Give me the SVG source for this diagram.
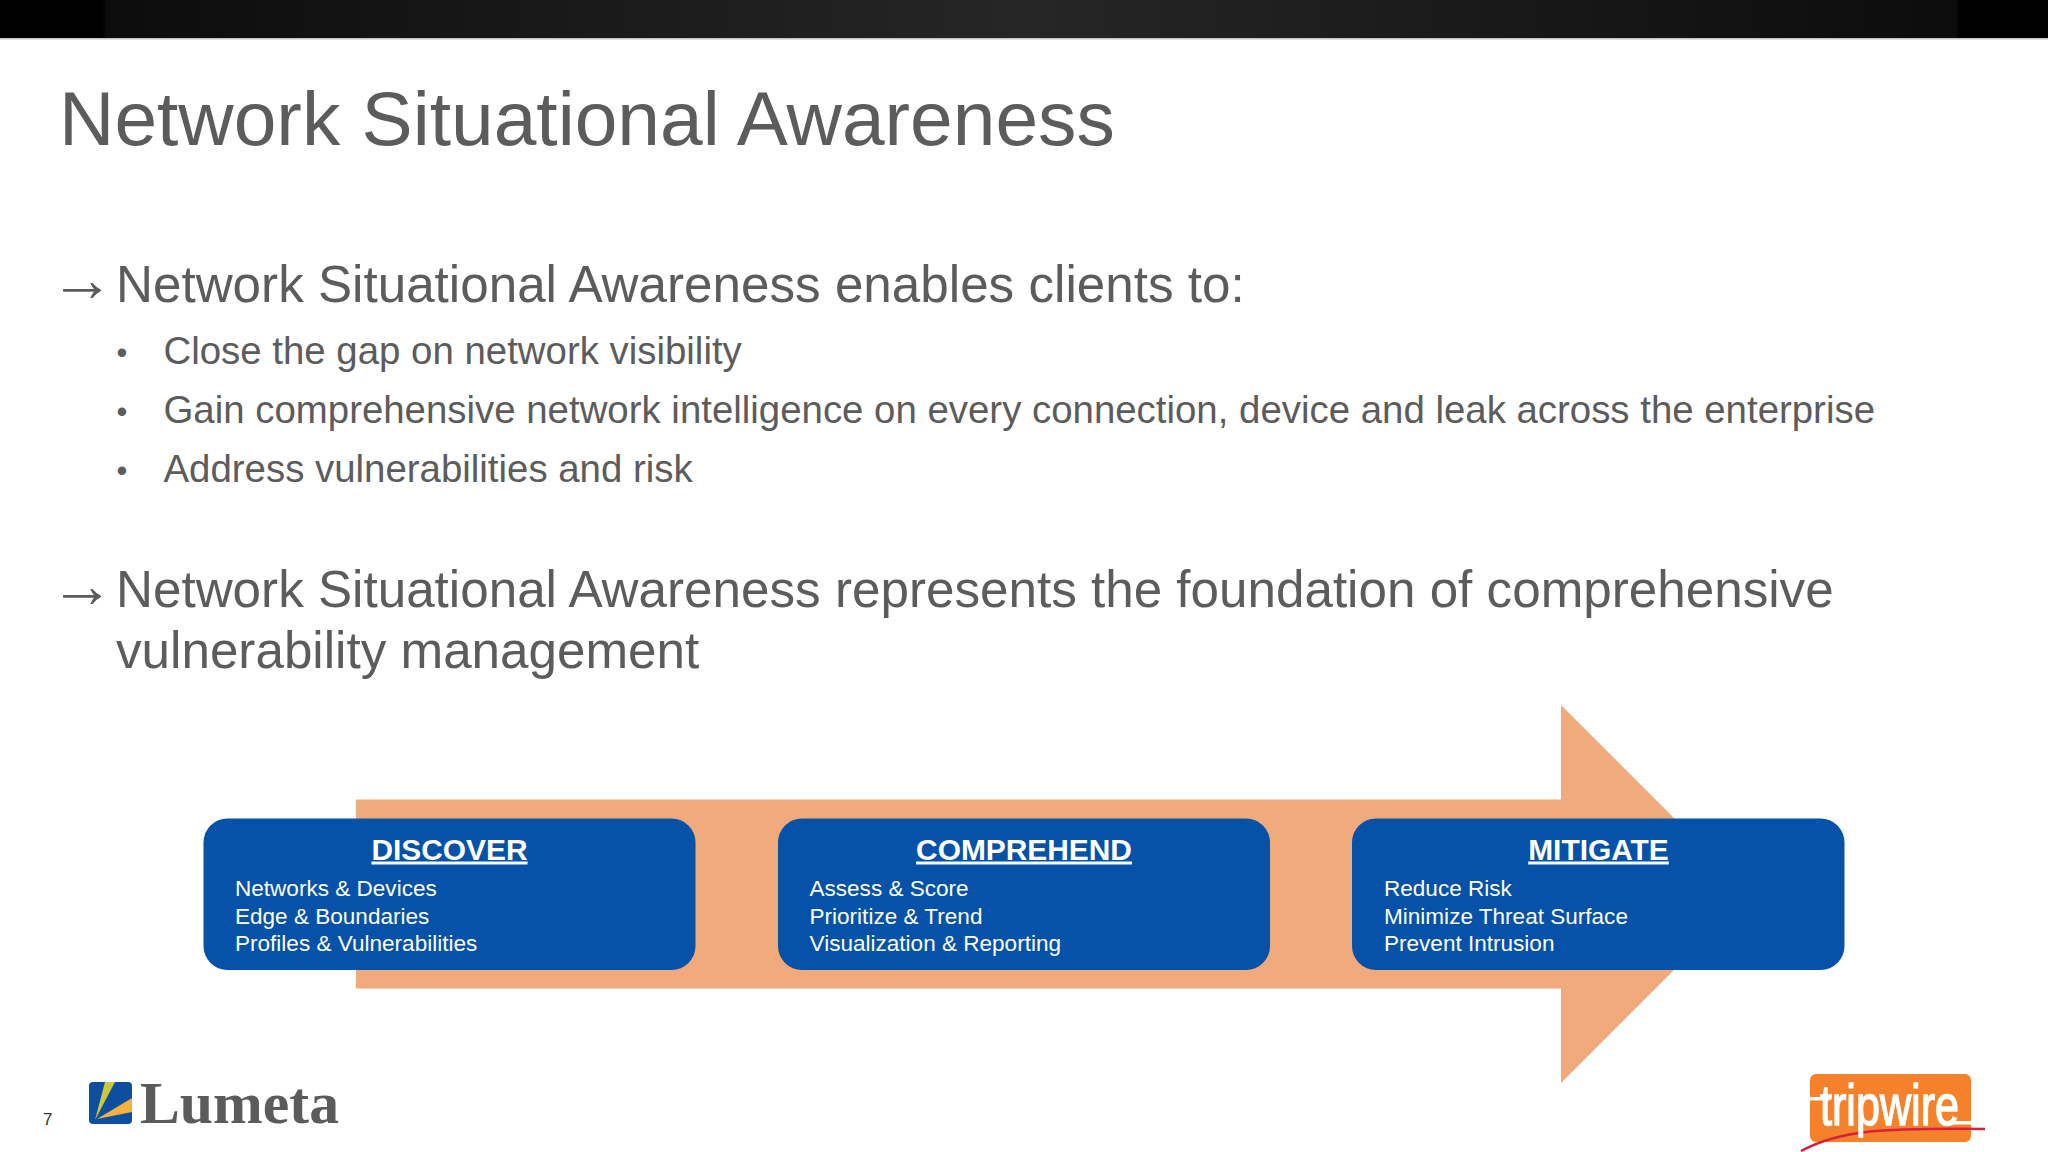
<svg xmlns="http://www.w3.org/2000/svg" width="2048" height="1152" viewBox="0 0 2048 1152">
<style>
text{font-family:"Liberation Sans",Arial,sans-serif}
.t{fill:#5c5c5c}
.h{font-size:51.200px}
.b{font-size:38.400px}
.a{font-size:64px}
.d{font-size:31px}
.box{fill:#0552a8}
.bt{font-size:29.900px;font-weight:bold;fill:#fff;text-anchor:middle;text-decoration:underline}
.bl{font-size:22.550px;fill:#fff}
</style>
<defs>
<linearGradient id="bar" x1="0" x2="1" y1="0" y2="0">
<stop offset="0" stop-color="#000"/><stop offset="0.05" stop-color="#000"/><stop offset="0.052" stop-color="#0c0c0c"/><stop offset="0.5" stop-color="#262626"/><stop offset="0.955" stop-color="#0c0c0c"/><stop offset="0.957" stop-color="#000"/><stop offset="1" stop-color="#000"/>
</linearGradient>
</defs>
<rect width="2048" height="1152" fill="#fff"/>
<rect id="topbar" width="2048" height="38" fill="url(#bar)"/>
<rect y="38" width="2048" height="1.500" fill="#c4c4c4"/>
<text class="t" x="59" y="144.500" font-size="76.700">Network Situational Awareness</text>
<text class="t a" x="50" y="301">→</text>
<text class="t h" x="116" y="302">Network Situational Awareness enables clients to:</text>
<text class="t d" x="116.500" y="362.500">•</text>
<text class="t b" x="163.500" y="364">Close the gap on network visibility</text>
<text class="t d" x="116.500" y="421.500">•</text>
<text class="t b" x="163.500" y="423">Gain comprehensive network intelligence on every connection, device and leak across the enterprise</text>
<text class="t d" x="116.500" y="480.500">•</text>
<text class="t b" x="163.500" y="482">Address vulnerabilities and risk</text>
<text class="t a" x="50" y="606.500">→</text>
<text class="t h" x="116" y="607">Network Situational Awareness represents the foundation of comprehensive</text>
<text class="t h" x="116" y="668">vulnerability management</text>
<g id="connectors">
<path id="flow-arrow" d="M356 799.500H1561V705L1750 894L1561 1083V988.500H356Z" fill="#f0aa7c"/>
</g>
<g id="discover">
<rect class="box" x="203.500" y="818.500" width="492" height="151.500" rx="24"/>
<text class="bt" x="449.500" y="859.500">DISCOVER</text>
<text class="bl" x="235" y="896">Networks &amp; Devices</text>
<text class="bl" x="235" y="923.500">Edge &amp; Boundaries</text>
<text class="bl" x="235" y="951">Profiles &amp; Vulnerabilities</text>
</g>
<g id="comprehend">
<rect class="box" x="778" y="818.500" width="492" height="151.500" rx="24"/>
<text class="bt" x="1024" y="859.500">COMPREHEND</text>
<text class="bl" x="809.500" y="896">Assess &amp; Score</text>
<text class="bl" x="809.500" y="923.500">Prioritize &amp; Trend</text>
<text class="bl" x="809.500" y="951">Visualization &amp; Reporting</text>
</g>
<g id="mitigate">
<rect class="box" x="1352" y="818.500" width="492.500" height="151.500" rx="24"/>
<text class="bt" x="1598.500" y="859.500">MITIGATE</text>
<text class="bl" x="1384" y="896">Reduce Risk</text>
<text class="bl" x="1384" y="923.500">Minimize Threat Surface</text>
<text class="bl" x="1384" y="951">Prevent Intrusion</text>
</g>
<text x="43" y="1125" font-size="17" fill="#333">7</text>
<g id="lumeta-logo">
<rect x="89" y="1082" width="43" height="42" rx="4" fill="#0d4f9e"/>
<path d="M95 1120L105 1082H115Z" fill="#c9c83f"/>
<path d="M97 1119L132 1098V1112Z" fill="#f4b13d"/>
<text x="140" y="1123" font-size="60" font-weight="bold" fill="#5a5b5d" textLength="199" lengthAdjust="spacingAndGlyphs" style="font-family:'Liberation Serif',serif">Lumeta</text>
</g>
<g id="tripwire-logo">
<rect x="1810" y="1074" width="161" height="68" rx="6" fill="#f5822a"/>
<path d="M1801 1151C1840 1130 1880 1128 1985 1129" fill="none" stroke="#d81f3c" stroke-width="2.500"/>
<text x="1820" y="1125" font-size="58" fill="#fff" stroke="#fff" stroke-width="1.500" textLength="139" lengthAdjust="spacingAndGlyphs">tripwire</text>
<rect x="1810" y="1097" width="20" height="3.500" fill="#fff"/>
<rect x="1944" y="1121" width="27" height="3.500" fill="#fff"/>
</g>
</svg>
